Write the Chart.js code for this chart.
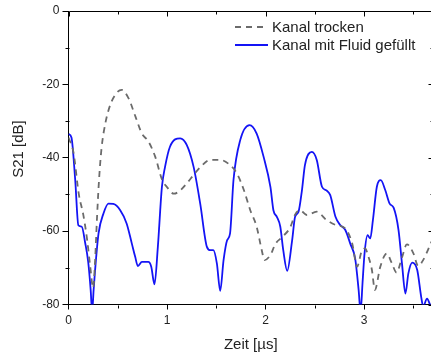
<!DOCTYPE html>
<html>
<head>
<meta charset="utf-8">
<script src="https://cdn.jsdelivr.net/npm/chart.js@4/dist/chart.umd.min.js"></script>
<style>
  html, body { margin: 0; padding: 0; background: #fff; }
  #wrap { width: 431px; height: 354px; overflow: hidden; position: relative; }
  canvas { display: block; }
</style>
</head>
<body>
<div id="wrap"><canvas id="c" width="440" height="354"></canvas></div>
<script>
// Time axis in µs, S21 in dB
const dryTime = [0, 0.05, 0.105, 0.15, 0.19, 0.22, 0.25, 0.27, 0.29, 0.31, 0.335, 0.375, 0.425, 0.49, 0.54,
  0.61, 0.68, 0.745, 0.81, 0.88, 0.95, 1.0, 1.07, 1.13, 1.2, 1.27, 1.34, 1.44, 1.54, 1.64, 1.71, 1.78,
  1.845, 1.91, 1.96, 1.99, 2.05, 2.1, 2.17, 2.25, 2.3, 2.35, 2.42, 2.52, 2.62, 2.72, 2.81, 2.88, 2.93,
  2.975, 3.01, 3.045, 3.08, 3.11, 3.165, 3.23, 3.28, 3.33, 3.385, 3.435, 3.5, 3.55, 3.6, 3.67, 3.7];
const dryS21 = [-34.5, -38.5, -50, -55.5, -62.5, -69.5, -75.5, -68, -56, -46, -37.5, -30.5, -25.5, -22.3, -21.5,
  -23.8, -28.8, -33.4, -35.5, -39.7, -46, -48, -49.8, -49, -47, -44.7, -42.5, -40.6, -40.6, -42, -44.3, -48.8,
  -54.3, -58.8, -65, -67.9, -66.5, -63.5, -61.6, -59, -55.5, -54.3, -55.6, -54.7, -57, -58.4, -59.3, -63.4, -69.7,
  -65.5, -64.7, -67, -70.6, -76, -69.7, -66.1, -68.6, -71.3, -67.2, -63.6, -66, -69.5, -67.9, -63.8, -62];

const fluidTime = [0, 0.03, 0.068, 0.1, 0.135, 0.17, 0.2, 0.225, 0.24, 0.255, 0.27, 0.305, 0.355, 0.405, 0.455,
  0.525, 0.59, 0.643, 0.677, 0.704, 0.745, 0.81, 0.84, 0.873, 0.907, 0.948, 0.98, 1.03, 1.134, 1.2, 1.27,
  1.337, 1.405, 1.44, 1.47, 1.506, 1.54, 1.574, 1.61, 1.64, 1.675, 1.743, 1.838, 1.91, 1.98, 2.05, 2.08,
  2.115, 2.15, 2.18, 2.22, 2.27, 2.3, 2.335, 2.37, 2.4, 2.47, 2.52, 2.573, 2.623, 2.657, 2.71, 2.76, 2.81,
  2.86, 2.91, 2.945, 2.965, 2.985, 3.005, 3.036, 3.063, 3.09, 3.13, 3.17, 3.215, 3.26, 3.3, 3.35, 3.385,
  3.42, 3.45, 3.49, 3.54, 3.58, 3.6, 3.64, 3.67, 3.7];
const fluidS21 = [-33.5, -34.5, -46, -58.4, -58.8, -63.3, -68.4, -76, -82, -76, -70.6, -60.6, -55.2, -52.5, -52.6,
  -54.3, -57.9, -63.4, -67, -69.5, -68.4, -68.4, -69.7, -74.5, -64.3, -48, -42.5, -37, -34.7, -36.5, -42.5,
  -52.5, -64.3, -65.2, -65.2, -68.8, -76.3, -67.9, -62.5, -60.6, -46, -35.2, -31.1, -33.4, -39.7, -48, -54.3,
  -56.1, -58.8, -65.2, -70.8, -62.5, -56.1, -54.7, -48.8, -42, -38.4, -40.6, -47.9, -49, -50.2, -56.1, -58.4, -59.7,
  -63.4, -67.5, -76, -82, -74, -66.1, -61.1, -62, -57, -47.9, -46.1, -48.8, -52.5, -53.6, -59.7, -68.8,
  -77, -71.5, -68.6, -70.6, -77.9, -80.5, -78.4, -80, -81];

const seriesNames = ['Kanal trocken', 'Kanal mit Fluid gefüllt'];
const xTitle = 'Zeit [µs]';
const yTitle = 'S21 [dB]';
const xMinorTicks = [0.5, 1.5, 2.5, 3.5];
const yMinorTicks = [-70, -50, -30, -10];

const FONT = '"Liberation Sans", Arial, sans-serif';

const pairs = (xs, ys) => xs.map((x, i) => ({ x, y: ys[i] }));

// Frame, minor ticks, mirrored ticks, axis title and legend
const decor = {
  id: 'decor',
  afterDraw(chart) {
    const { ctx, chartArea: a, scales: { x, y } } = chart;
    ctx.save();
    ctx.strokeStyle = '#000';
    ctx.lineWidth = 1;
    const L = Math.round(a.left) + 0.5, R = Math.round(a.right) + 0.5;
    const T = Math.round(a.top) + 0.5, B = Math.round(a.bottom) + 0.5;
    ctx.beginPath();
    ctx.moveTo(L, T); ctx.lineTo(R, T); ctx.lineTo(R, B);
    // bottom minor ticks (outward) and top ticks (inward)
    xMinorTicks.forEach(v => {
      const px = Math.round(x.getPixelForValue(v)) + 0.5;
      ctx.moveTo(px, B); ctx.lineTo(px, B + 3);
      ctx.moveTo(px, T); ctx.lineTo(px, T + 3);
    });
    x.ticks.forEach(t => {
      const px = Math.round(x.getPixelForValue(t.value)) + 0.5;
      ctx.moveTo(px, T); ctx.lineTo(px, T + 5);
    });
    // left minor ticks (outward) and right ticks (inward)
    yMinorTicks.forEach(v => {
      const py = Math.round(y.getPixelForValue(v)) + 0.5;
      ctx.moveTo(L, py); ctx.lineTo(L - 4, py);
      ctx.moveTo(R, py); ctx.lineTo(R - 3, py);
    });
    y.ticks.forEach(t => {
      const py = Math.round(y.getPixelForValue(t.value)) + 0.5;
      ctx.moveTo(R, py); ctx.lineTo(R - 5, py);
    });
    ctx.stroke();

    // y axis title
    ctx.fillStyle = '#222';
    ctx.font = '15px ' + FONT;
    ctx.textAlign = 'center';
    ctx.textBaseline = 'middle';
    ctx.save();
    ctx.translate(19, 149);
    ctx.rotate(-Math.PI / 2);
    ctx.fillText(yTitle, 0, 0);
    ctx.restore();

    // legend inside the plot
    const rows = [27, 45];
    chart.data.datasets.forEach((ds, i) => {
      const yy = rows[i];
      ctx.save();
      ctx.strokeStyle = ds.borderColor;
      ctx.lineWidth = ds.borderWidth;
      ctx.setLineDash(ds.borderDash || []);
      ctx.beginPath();
      ctx.moveTo(235, yy); ctx.lineTo(268, yy);
      ctx.stroke();
      ctx.restore();
      ctx.fillStyle = '#222';
      ctx.textAlign = 'left';
      ctx.fillText(ds.label, 272, yy + 1);
    });
    ctx.restore();
  }
};

new Chart(document.getElementById('c'), {
  type: 'scatter',
  data: {
    datasets: [
      {
        label: seriesNames[0],
        data: pairs(dryTime, dryS21),
        showLine: true,
        borderColor: '#6b6b6b',
        borderWidth: 1.8,
        borderDash: [6, 5],
        pointRadius: 0,
        cubicInterpolationMode: 'monotone',
        fill: false
      },
      {
        label: seriesNames[1],
        data: pairs(fluidTime, fluidS21),
        showLine: true,
        borderColor: '#1414f5',
        borderWidth: 1.8,
        pointRadius: 0,
        cubicInterpolationMode: 'monotone',
        fill: false
      }
    ]
  },
  options: {
    responsive: false,
    animation: false,
    devicePixelRatio: 1,
    layout: { padding: { top: 11, right: 7, left: 0, bottom: 0 } },
    plugins: { legend: { display: false }, tooltip: { enabled: false } },
    scales: {
      x: {
        type: 'linear',
        min: 0,
        max: 3.7,
        afterFit: s => { s.height = 49.5; },
        border: { display: true, color: '#000', width: 1 },
        grid: { drawOnChartArea: false, drawTicks: true, tickLength: 5, color: '#000' },
        ticks: {
          stepSize: 1, includeBounds: false, padding: 4, color: '#222',
          font: { family: FONT, size: 12 },
          callback: v => String(v)
        },
        title: {
          display: true, text: xTitle, color: '#222',
          font: { family: FONT, size: 15 }, padding: { top: 8, bottom: 0 }
        }
      },
      y: {
        type: 'linear',
        min: -80,
        max: 0,
        afterFit: s => { s.width = 68.5; },
        border: { display: true, color: '#000', width: 1 },
        grid: { drawOnChartArea: false, drawTicks: true, tickLength: 6, color: '#000' },
        ticks: {
          stepSize: 20, padding: 3, color: '#222',
          font: { family: FONT, size: 12 }
        }
      }
    }
  },
  plugins: [decor]
});
</script>
</body>
</html>
